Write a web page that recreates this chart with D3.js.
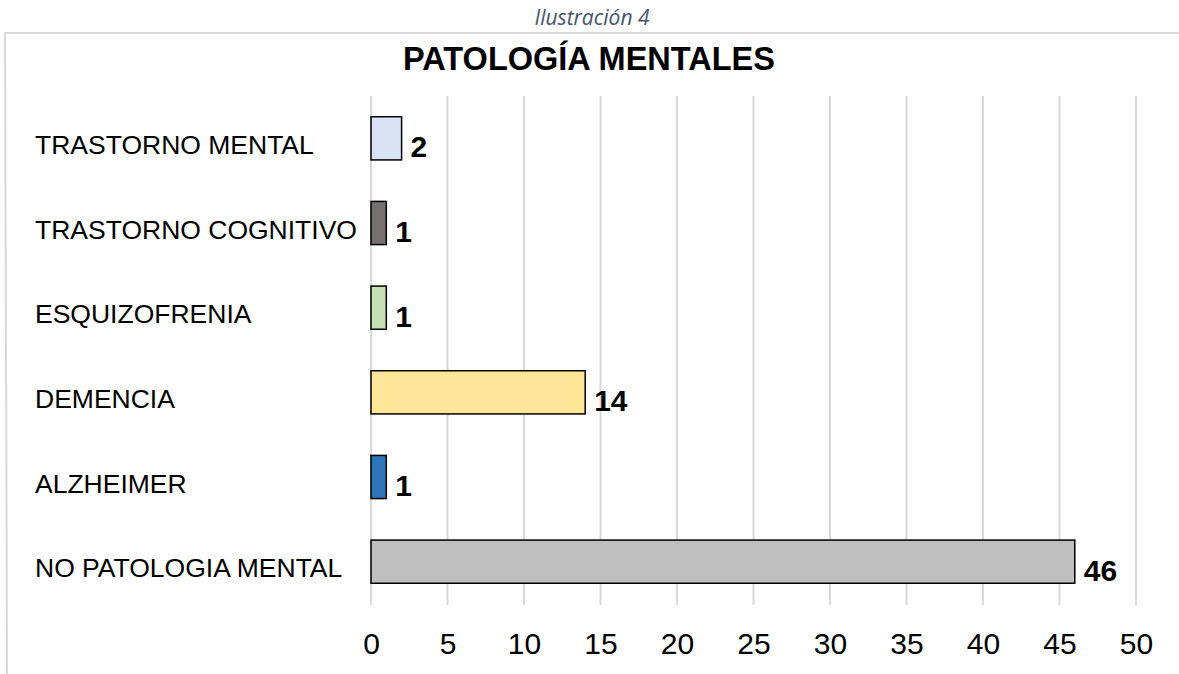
<!DOCTYPE html>
<html>
<head>
<meta charset="utf-8">
<script src="https://cdn.jsdelivr.net/npm/d3@7"></script>
<style>
  body { margin: 0; background: #fff; }
  svg { display: block; font-family: "Liberation Sans", Arial, sans-serif; }
</style>
</head>
<body>
<div id="chart"></div>
<script>
"use strict";

var categories = ['TRASTORNO MENTAL', 'TRASTORNO COGNITIVO', 'ESQUIZOFRENIA', 'DEMENCIA', 'ALZHEIMER', 'NO PATOLOGIA MENTAL'];
var values = [2, 1, 1, 14, 1, 46];
var colors = ['#dae3f3', '#767171', '#c5e0b4', '#ffe699', '#2e75b6', '#bfbfbf'];
var ticks = [0, 5, 10, 15, 20, 25, 30, 35, 40, 45, 50];

var W = 1179, H = 674;
var svg = d3.select('#chart').append('svg').attr('width', W).attr('height', H);

// caption above the frame
svg.append('text').attr('x', 592).attr('y', 25).attr('text-anchor', 'middle')
  .style('font-family', '"Open Sans", sans-serif').style('font-style', 'italic')
  .style('font-size', '21px').style('fill', '#44546a').text('Ilustración 4');

// chart frame (top and left edges visible)
svg.append('line').attr('x1', 4).attr('x2', W).attr('y1', 33).attr('y2', 33)
  .style('stroke', '#d9d9d9').style('stroke-width', 2);
svg.append('line').attr('x1', 5).attr('x2', 7).attr('y1', 33).attr('y2', H)
  .style('stroke', '#d9d9d9').style('stroke-width', 2);

svg.append('text').attr('x', 589).attr('y', 70).attr('text-anchor', 'middle')
  .style('font-weight', 'bold').style('font-size', '32.5px').style('fill', '#000')
  .text('PATOLOGÍA MENTALES');

var x = d3.scaleLinear().domain([0, 50]).range([371, 1136]);
var y = d3.scaleBand().domain(categories).range([96, 604]).paddingInner(0.49).paddingOuter(0.245);

// gridlines
svg.append('g').selectAll('line').data(ticks).enter().append('line')
  .attr('x1', function (d) { return x(d); }).attr('x2', function (d) { return x(d); })
  .attr('y1', 96).attr('y2', 605)
  .style('stroke', '#d9d9d9').style('stroke-width', 2);

// x axis labels
var xAxis = d3.axisBottom(x).tickValues(ticks).tickSize(0).tickPadding(0);
var gx = svg.append('g').attr('transform', 'translate(0, 654)').call(xAxis);
gx.select('.domain').remove();
gx.selectAll('text').style('font-size', '30px').style('fill', '#000')
  .style('font-family', '"Liberation Sans", Arial, sans-serif').attr('dy', 0);

// category labels
svg.append('g').selectAll('text').data(categories).enter().append('text')
  .attr('x', 35).attr('y', function (d) { return y(d) + y.bandwidth() / 2 + 15.5; })
  .style('font-size', '26.5px').style('fill', '#000').text(function (d) { return d; });

// bars
svg.append('g').selectAll('rect').data(values).enter().append('rect')
  .attr('x', x(0)).attr('y', function (d, i) { return y(categories[i]); })
  .attr('width', function (d) { return x(d) - x(0); })
  .attr('height', y.bandwidth())
  .style('fill', function (d, i) { return colors[i]; })
  .style('stroke', '#000').style('stroke-width', 1.5);

// value labels
svg.append('g').selectAll('text').data(values).enter().append('text')
  .attr('x', function (d) { return x(d) + 9; })
  .attr('y', function (d, i) { return y(categories[i]) + y.bandwidth() / 2 + 19; })
  .style('font-size', '30px').style('font-weight', 'bold').style('fill', '#000')
  .text(function (d) { return d; });
</script>
</body>
</html>
